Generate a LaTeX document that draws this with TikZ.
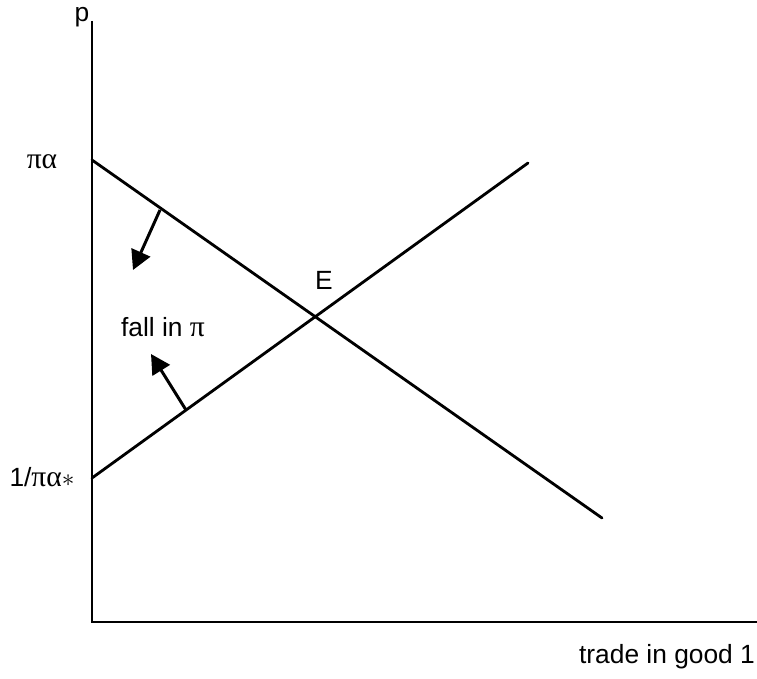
\documentclass[tikz,border=0pt]{standalone}
\usepackage{fontspec}
\setmainfont{Liberation Sans}
\newfontfamily\grk[Scale=1.12]{Liberation Serif}
\usetikzlibrary{arrows.meta}

\begin{document}
\begin{tikzpicture}[
    x=0.02cm, y=-0.02cm,
    curve/.style={line width=1.6pt, line cap=round},
    axis/.style={line width=1.4pt},
    move/.style={-{Triangle[length=11pt, width=11.5pt]}, line width=1.7pt},
    lbl/.style={font=\fontsize{15}{18}\selectfont, inner sep=0pt}
]
    \useasboundingbox (0, 0) rectangle (757, 679);

    % axes
    \coordinate (O) at (92, 622);
    \coordinate (ytop) at (92, 21);
    \coordinate (xend) at (757, 622);
    \draw[axis] (ytop) -- (O) -- (xend);

    % schedules
    \coordinate (dA) at (92, 160);
    \coordinate (dB) at (602, 518);
    \coordinate (sA) at (92, 478);
    \coordinate (sB) at (528, 163);
    \draw[curve] (dA) -- (dB);
    \draw[curve] (sA) -- (sB);

    % shifts
    \coordinate (dfoot) at (160, 210);
    \coordinate (dtip) at (133, 270);
    \coordinate (sfoot) at (186, 410);
    \coordinate (stip) at (151, 354);
    \draw[move] (dfoot) -- (dtip);
    \draw[move] (sfoot) -- (stip);

    % labels
    \node[lbl] (p) at (82, 17) {p};
    \node[lbl] (top) at (42, 162) {\grk πα};
    \node[lbl] (bot) at (42, 477) {1/{\grk πα}$\ast$};
    \node[lbl] (fall) at (163, 327) {fall in {\grk π}};
    \node[lbl] (E) at (324, 280) {E};
    \node[lbl] (trade) at (667, 657) {trade in good 1};
\end{tikzpicture}
\end{document}
